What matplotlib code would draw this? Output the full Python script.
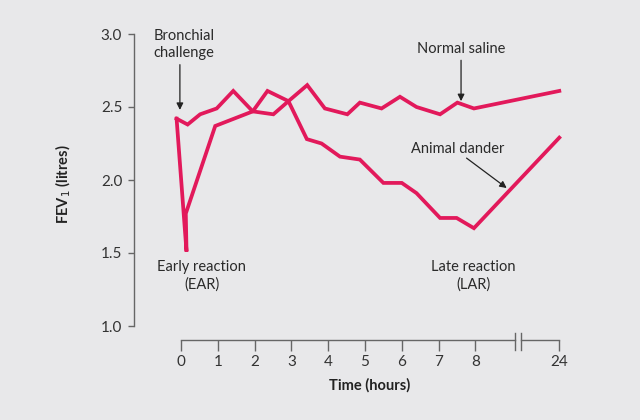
import matplotlib.pyplot as plt

plt.rcParams['font.family'] = ['Lato', 'DejaVu Sans']

# hours after challenge (24 h is drawn after an axis break)
saline_hours = [-0.12, 0.18, 0.52, 0.97, 1.42, 1.95, 2.51, 2.92, 3.43, 3.91,
                4.52, 4.86, 5.45, 5.95, 6.4, 7.04, 7.51, 7.96, 24]
saline_fev = [2.42, 2.38, 2.45, 2.49, 2.61, 2.47, 2.45, 2.54, 2.65, 2.49,
              2.45, 2.53, 2.49, 2.57, 2.50, 2.45, 2.53, 2.49, 2.61]

dander_hours = [-0.12, 0.15, 0.13, 0.93, 1.95, 2.35, 2.92, 3.42, 3.82, 4.32,
                4.86, 5.5, 6.0, 6.4, 7.04, 7.49, 7.96, 24]
dander_fev = [2.42, 1.51, 1.77, 2.37, 2.47, 2.61, 2.54, 2.28, 2.25, 2.16,
              2.14, 1.98, 1.98, 1.91, 1.74, 1.74, 1.67, 2.29]

xtick_hours = [0, 1, 2, 3, 4, 5, 6, 7, 8, 24]
yticks = [1.0, 1.5, 2.0, 2.5, 3.0]

POS24 = 10.28          # where 24 h sits on the broken axis
BREAK = (9.08, 9.25)


def hpos(h):
    return POS24 if h == 24 else h


bg = '#e8e8ea'
red = '#e2195b'
grey = '#666666'

fig = plt.figure(figsize=(6.4, 4.2), dpi=100)
fig.patch.set_facecolor(bg)
ax = fig.add_axes([134 / 640, 80 / 420, 466 / 640, 320 / 420])
ax.set_facecolor(bg)
ax.set_xlim((134 - 181) / 36.8, (600 - 181) / 36.8)
ax.set_ylim(3.0 - (340 - 34) / 146, 3.0 + 14 / 146)
ybot = ax.get_ylim()[0]

ax.plot([hpos(h) for h in saline_hours], saline_fev, color=red, lw=2.7,
        solid_joinstyle='miter', clip_on=False)
ax.plot([hpos(h) for h in dander_hours], dander_fev, color=red, lw=2.7,
        solid_joinstyle='miter', clip_on=False)

for s in ['top', 'right']:
    ax.spines[s].set_visible(False)
ax.spines['left'].set_bounds(1.0, 3.0)
ax.spines['bottom'].set_bounds(0, BREAK[0])
for s in ['left', 'bottom']:
    ax.spines[s].set_color(grey)
    ax.spines[s].set_linewidth(1.0)
# rest of the x axis after the break, and the break marks
ax.plot([BREAK[1], POS24], [ybot, ybot], color=grey, lw=1.0, clip_on=False)
for bx in BREAK:
    ax.plot([bx, bx], [ybot + 0.045, ybot - 0.07], color=grey, lw=1.0,
            clip_on=False)

ax.set_yticks(yticks)
ax.set_yticklabels(['%.1f' % v for v in yticks])
ax.set_xticks([hpos(h) for h in xtick_hours])
ax.set_xticklabels([str(h) for h in xtick_hours])
ax.tick_params(axis='y', length=4.5, width=1.0, color=grey, pad=4,
               labelsize=11, labelcolor='#333333')
ax.tick_params(axis='x', length=8, width=1.0, color=grey, pad=3,
               labelsize=11, labelcolor='#333333')

ax.set_ylabel('FEV$_1$ (litres)', fontsize=10.5, fontweight='bold',
              color='#222222')
ax.yaxis.set_label_coords((73 - 134) / 466, 0.5 - 0.012)
ax.set_xlabel('Time (hours)', fontsize=10.5, fontweight='bold',
              color='#222222')
ax.xaxis.set_label_coords((370 - 134) / 466, (340 - 385) / 320)
ax.xaxis.label.set_va('center')

txt = dict(fontsize=10.5, color='#2a2a2a', ha='center', va='center',
           multialignment='center', linespacing=1.3)
arrow = dict(arrowstyle='-|>', color='#222222', lw=0.9, mutation_scale=10,
             shrinkA=0, shrinkB=0)

ax.text(0.08, 2.928, 'Bronchial\nchallenge', **txt)
ax.annotate('', xy=(-0.03, 2.48), xytext=(-0.03, 2.79), arrowprops=arrow)
ax.text(7.61, 2.897, 'Normal saline', **txt)
ax.annotate('', xy=(7.61, 2.54), xytext=(7.61, 2.82), arrowprops=arrow)
ax.text(7.52, 2.212, 'Animal dander', **txt)
ax.annotate('', xy=(8.85, 1.945), xytext=(7.76, 2.15), arrowprops=arrow)
ax.text(0.56, 1.342, 'Early reaction\n(EAR)', **txt)
ax.text(7.94, 1.342, 'Late reaction\n(LAR)', **txt)

fig.savefig('out.png', dpi=100, facecolor=bg)
